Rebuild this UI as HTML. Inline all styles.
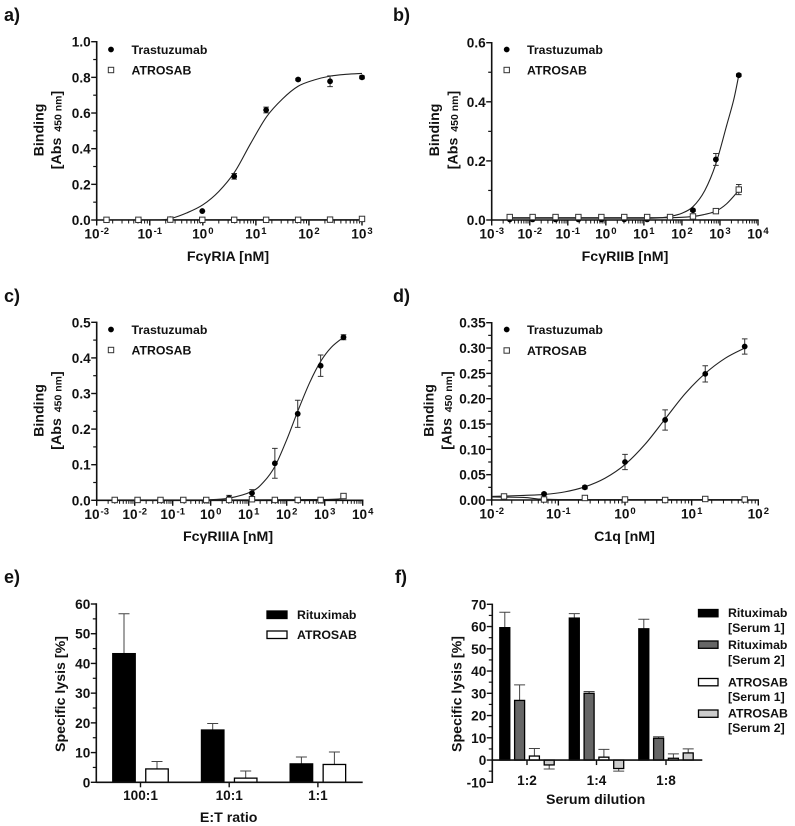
<!DOCTYPE html>
<html lang="en">
<head>
<meta charset="utf-8">
<title>Binding and lysis charts</title>
<style>
html,body{margin:0;padding:0;background:#fff;}
svg{display:block;font-family:"Liberation Sans",Arial,sans-serif;font-weight:bold;fill:#111;filter:blur(0.3px);}
.tick{font-size:13.6px;}
.title{font-size:14.2px;}
.leg{font-size:12.3px;}
.letter{font-size:18px;}
</style>
</head>
<body>
<svg id="fig" width="795" height="826" viewBox="0 0 795 826" xmlns="http://www.w3.org/2000/svg">
  <rect width="795" height="826" fill="#fff"/>

  <text class="letter" x="4" y="21">a)</text>
  <text class="letter" x="393" y="21">b)</text>
  <text class="letter" x="4" y="302">c)</text>
  <text class="letter" x="393" y="302">d)</text>
  <text class="letter" x="4" y="583">e)</text>
  <text class="letter" x="395" y="583">f)</text>

  <g id="panel-a">
    <text class="title" transform="translate(43.5,130) rotate(-90)" text-anchor="middle">Binding</text>
    <text class="title" transform="translate(61,130) rotate(-90)" text-anchor="middle">[Abs <tspan font-size="10.5" dy="0.5" dx="2">450 nm</tspan><tspan dy="-0.5">]</tspan></text>
    <text class="title" x="228" y="261" text-anchor="middle">FcγRIA [nM]</text>
  </g>
  <g id="panel-b">
    <text class="title" transform="translate(439,130) rotate(-90)" text-anchor="middle">Binding</text>
    <text class="title" transform="translate(457.5,130) rotate(-90)" text-anchor="middle">[Abs <tspan font-size="10.5" dy="0.5" dx="2">450 nm</tspan><tspan dy="-0.5">]</tspan></text>
    <text class="title" x="625" y="261" text-anchor="middle">FcγRIIB [nM]</text>
  </g>
  <g id="panel-c">
    <text class="title" transform="translate(43.5,410.5) rotate(-90)" text-anchor="middle">Binding</text>
    <text class="title" transform="translate(61,410.5) rotate(-90)" text-anchor="middle">[Abs <tspan font-size="10.5" dy="0.5" dx="2">450 nm</tspan><tspan dy="-0.5">]</tspan></text>
    <text class="title" x="228" y="541" text-anchor="middle">FcγRIIIA [nM]</text>
  </g>
  <g id="panel-d">
    <text class="title" transform="translate(433.3,410.5) rotate(-90)" text-anchor="middle">Binding</text>
    <text class="title" transform="translate(451.7,410.5) rotate(-90)" text-anchor="middle">[Abs <tspan font-size="10.5" dy="0.5" dx="2">450 nm</tspan><tspan dy="-0.5">]</tspan></text>
    <text class="title" x="624.5" y="541" text-anchor="middle">C1q [nM]</text>
  </g>
  <g id="panel-e">
    <text class="title" transform="translate(65,694) rotate(-90)" text-anchor="middle">Specific lysis [%]</text>
    <text class="title" x="228.7" y="822" text-anchor="middle">E:T ratio</text>
  </g>
  <g id="panel-f">
    <text class="title" transform="translate(461.7,694) rotate(-90)" text-anchor="middle">Specific lysis [%]</text>
    <text class="title" x="595.7" y="804" text-anchor="middle">Serum dilution</text>
  </g>
</svg>

<script>
/* Panel a */
const aExponents = [-2,-1,0,1,2,3];
const aYTicks = [0,0.2,0.4,0.6,0.8,1.0];
const aYLabels = ['0.0','0.2','0.4','0.6','0.8','1.0'];
const aTrastConc = [0.244,0.977,3.9,15.6,62.5,250,1000];
const aTrast = [0.005,0.05,0.245,0.617,0.788,0.778,0.80];
const aTrastErr = [0.002,0.002,0.016,0.016,0.006,0.03,0.008];
const aAtroConc = [0.0153,0.061,0.244,0.977,3.9,15.6,62.5,250,1000];
const aAtro = [0.001,0.001,0.002,0.001,0.001,0.001,0.001,0.002,0.006];
const aAtroErr = [0,0,0,0,0,0,0,0,0];
const aTrastCurveX = [0.16,0.25,0.5,1,2,4,8,16,32,62.5,125,250,500,1000];
const aTrastCurveY = [0,0.008,0.04,0.085,0.16,0.27,0.43,0.58,0.68,0.75,0.785,0.807,0.817,0.822];
const aAtroCurveX = [0.0153,1000];
const aAtroCurveY = [0.001,0.002];

/* Panel b */
const bExponents = [-3,-2,-1,0,1,2,3,4];
const bYTicks = [0,0.2,0.4,0.6];
const bYLabels = ['0.0','0.2','0.4','0.6'];
const bConc = [0.00298,0.0119,0.0477,0.19,0.763,3.05,12.2,48.8,195,781,3125];
const bTrast = [0.002,0.002,0.002,0.002,0.002,0.002,0.002,0.008,0.033,0.205,0.49];
const bTrastErr = [0,0,0,0,0,0,0,0,0.004,0.02,0.004];
const bAtro = [0.01,0.01,0.01,0.01,0.01,0.01,0.01,0.01,0.012,0.03,0.103];
const bAtroErr = [0.003,0.003,0.003,0.003,0.003,0.003,0.003,0.003,0.003,0.003,0.017];
const bTrastCurveX = [0.00298,1,12.2,30,48.8,100,195,400,781,1500,2290,3125];
const bTrastCurveY = [0.006,0.006,0.006,0.008,0.012,0.023,0.045,0.10,0.19,0.32,0.406,0.49];
const bAtroCurveX = [0.00298,1,48.8,195,400,781,1500,3125];
const bAtroCurveY = [0.008,0.008,0.008,0.012,0.019,0.03,0.055,0.1];

/* Panel c */
const cExponents = [-3,-2,-1,0,1,2,3,4];
const cYTicks = [0,0.1,0.2,0.3,0.4,0.5];
const cYLabels = ['0.0','0.1','0.2','0.3','0.4','0.5'];
const cTrastConc = [0.763,3.05,12.2,48.8,195,781,3125];
const cTrast = [0.001,0.006,0.02,0.104,0.243,0.378,0.458];
const cTrastErr = [0,0.008,0.01,0.042,0.038,0.03,0.007];
const cAtroConc = [0.00298,0.0119,0.0477,0.19,0.763,3.05,12.2,48.8,195,781,3125];
const cAtro = [0.001,0.001,0.001,0.001,0.001,0.001,0.003,0.001,0.001,0.001,0.012];
const cAtroErr = [0,0,0,0,0,0,0,0,0,0,0];
const cTrastCurveX = [0.763,3.05,12.2,25,48.8,100,195,400,781,1500,3125];
const cTrastCurveY = [0.001,0.006,0.025,0.052,0.095,0.17,0.25,0.33,0.39,0.43,0.458];
const cAtroCurveX = [0.00298,781,3125];
const cAtroCurveY = [0.001,0.002,0.012];

/* Panel d */
const dExponents = [-2,-1,0,1,2];
const dYTicks = [0,0.05,0.10,0.15,0.20,0.25,0.30,0.35];
const dYLabels = ['0.00','0.05','0.10','0.15','0.20','0.25','0.30','0.35'];
const dTrastConc = [0.061,0.25,1,4,16,62.5];
const dTrast = [0.012,0.025,0.075,0.158,0.249,0.303];
const dTrastErr = [0.002,0.003,0.015,0.02,0.016,0.015];
const dAtroConc = [0.0153,0.061,0.25,1,4,16,62.5];
const dAtro = [0.007,0.001,0.004,0.001,0,0.002,0.001];
const dAtroErr = [0,0,0,0,0,0,0];
const dTrastCurveX = [0.01,0.03,0.0625,0.125,0.25,0.5,1,2,4,8,16,32,62.5];
const dTrastCurveY = [0.007,0.009,0.011,0.016,0.026,0.043,0.07,0.11,0.16,0.21,0.25,0.28,0.30];
const dAtroCurveX = [0.01,0.03,0.05,0.1,1,62.5];
const dAtroCurveY = [0.006,0.005,0.002,0.001,0.001,0.001];

/* Panel e */
const eCategories = ['100:1','10:1','1:1'];
const eYTicks = [0,10,20,30,40,50,60];
const eYLabels = ['0','10','20','30','40','50','60'];
const eRituximab = [43.3,17.6,6.2];
const eRituximabTop = [56.7,19.8,8.5];
const eAtrosab = [4.5,1.4,6.0];
const eAtrosabTop = [7.0,3.8,10.2];

/* Panel f */
const fCategories = ['1:2','1:4','1:8'];
const fYTicks = [-10,0,10,20,30,40,50,60,70];
const fYLabels = ['-10','0','10','20','30','40','50','60','70'];
const fRit1 = [59.5,63.8,59.0];
const fRit1End = [66.4,65.8,63.3];
const fRit2 = [26.8,30.0,9.8];
const fRit2End = [33.8,30.8,10.5];
const fAtr1 = [1.8,1.3,0.8];
const fAtr1End = [5.2,4.8,2.8];
const fAtr2 = [-2.2,-3.8,3.2];
const fAtr2End = [-4.0,-5.0,5.0];

const NS = 'http://www.w3.org/2000/svg';
const INK = '#111';

function make(tag, parent, attrs) {
  const n = document.createElementNS(NS, tag);
  for (const k in attrs) n.setAttribute(k, attrs[k]);
  parent.appendChild(n);
  return n;
}
function rule(parent, x1, y1, x2, y2, w, color) {
  return make('line', parent, {x1:x1, y1:y1, x2:x2, y2:y2, stroke:color || INK, 'stroke-width':w});
}

/* linear y ticks with unlabeled midpoints */
function drawYAxis(g, x, yOf, ticks, labels) {
  const axis = rule(g, x, yOf(ticks[ticks.length-1]) - 0.7, x, yOf(ticks[0]) + 0.7, 1.6);
  
  
  ticks.forEach((t, i) => {
    const major = rule(g, x - 5.5, yOf(t), x, yOf(t), 1.4);
    
    
    const lab = make('text', g, {class:'tick', x:x - 6, y:yOf(t) + 5, 'text-anchor':'end'});
    lab.textContent = labels[i];
    
    
    if (i < ticks.length - 1) {
      const minor = rule(g, x - 3.5, yOf((t + ticks[i+1]) / 2), x, yOf((t + ticks[i+1]) / 2), 1.2);
      
      
    }
  });
}

/* smooth path through points */
function smoothPath(pts) {
  let d = 'M' + pts[0][0].toFixed(2) + ' ' + pts[0][1].toFixed(2);
  for (let i = 0; i < pts.length - 1; i++) {
    const p0 = pts[Math.max(i-1,0)], p1 = pts[i], p2 = pts[i+1], p3 = pts[Math.min(i+2,pts.length-1)];
    const c1x = p1[0] + (p2[0]-p0[0])/6, c1y = p1[1] + (p2[1]-p0[1])/6;
    const c2x = p2[0] - (p3[0]-p1[0])/6, c2y = p2[1] - (p3[1]-p1[1])/6;
    d += 'C' + c1x.toFixed(2) + ' ' + c1y.toFixed(2) + ' ' + c2x.toFixed(2) + ' ' + c2y.toFixed(2) + ' ' + p2[0].toFixed(2) + ' ' + p2[1].toFixed(2);
  }
  return d;
}

function drawDoseChart(id, box, exps, yTicks, yLabels, tc, tv, te, ac, av, ae, tcx, tcy, acx, acy, leg) {
  const g = document.getElementById(id);
  const lo = exps[0], hi = exps[exps.length-1];
  const xOf = c => box.x0 + (Math.log10(c) - lo) / (hi - lo) * (box.x1 - box.x0);
  const yMax = yTicks[yTicks.length-1];
  const yOf = v => box.y0 + (v / yMax) * (box.y1 - box.y0);

  const xAxis = rule(g, box.x0, box.y0, box.x1 + 0.7, box.y0, 1.6);
  
  
  exps.forEach((e, i) => {
    const px = xOf(Math.pow(10, e));
    const tick = rule(g, px, box.y0, px, box.y0 + 5.5, 1.4);
    
    
    const lab = make('text', g, {class:'tick', x:px, y:box.y0 + 18.5, 'text-anchor':'middle'});
    
    
    const base = make('tspan', lab, {});
    base.textContent = '10';
    const sup = make('tspan', lab, {'font-size':'9.5', dy:'-4.5', dx:'1'});
    sup.textContent = String(e);
    if (i < exps.length - 1) {
      for (let m = 2; m < 10; m++) {
        const mx = xOf(m * Math.pow(10, e));
        const minor = rule(g, mx, box.y0, mx, box.y0 + 3.5, 1);
        
        
      }
    }
  });
  drawYAxis(g, box.x0, yOf, yTicks, yLabels);

  const tCurve = make('path', g, {d:smoothPath(tcx.map((c,i)=>[xOf(c),yOf(tcy[i])])), fill:'none', stroke:'#222', 'stroke-width':1.1});
  
  
  const aCurve = make('path', g, {d:smoothPath(acx.map((c,i)=>[xOf(c),yOf(acy[i])])), fill:'none', stroke:'#222', 'stroke-width':1.1});
  
  

  tc.forEach((c, i) => {
    const px = xOf(c), py = yOf(tv[i]);
    if (te[i] > 0) {
      const up = yOf(tv[i] + te[i]), dn = yOf(Math.max(tv[i] - te[i], 0));
      const bar = make('path', g, {d:`M${px-2.8} ${up}H${px+2.8}M${px} ${up}V${dn}M${px-2.8} ${dn}H${px+2.8}`, fill:'none', stroke:'#333', 'stroke-width':1});
      
      
    }
    const dot = make('circle', g, {cx:px, cy:py, r:2.9, fill:'#000'});
    
    
  });
  ac.forEach((c, i) => {
    const px = xOf(c), py = yOf(av[i]);
    if (ae[i] > 0) {
      const up = yOf(av[i] + ae[i]), dn = yOf(Math.max(av[i] - ae[i], 0));
      const bar = make('path', g, {d:`M${px-2.8} ${up}H${px+2.8}M${px} ${up}V${dn}M${px-2.8} ${dn}H${px+2.8}`, fill:'none', stroke:'#333', 'stroke-width':1});
      
      
    }
    const sq = make('rect', g, {x:px-2.7, y:py-2.7, width:5.4, height:5.4, fill:'#fff', stroke:'#333', 'stroke-width':1});
    
    
  });

  const ld = make('circle', g, {cx:leg.mx, cy:leg.y1, r:2.9, fill:'#000'});
  
  
  const lt = make('text', g, {class:'leg', x:leg.tx, y:leg.y1 + 4.5});
  lt.textContent = 'Trastuzumab';
  
  
  const ls = make('rect', g, {x:leg.mx-2.7, y:leg.y2-2.7, width:5.4, height:5.4, fill:'#fff', stroke:'#333', 'stroke-width':1});
  
  
  const la = make('text', g, {class:'leg', x:leg.tx, y:leg.y2 + 4.5});
  la.textContent = 'ATROSAB';
  
  
}

drawDoseChart('panel-a', {x0:96.7,x1:362,y0:220,y1:41.7}, aExponents, aYTicks, aYLabels,
  aTrastConc, aTrast, aTrastErr, aAtroConc, aAtro, aAtroErr, aTrastCurveX, aTrastCurveY, aAtroCurveX, aAtroCurveY,
  {mx:111, tx:131.5, y1:49.5, y2:70});
drawDoseChart('panel-b', {x0:491.7,x1:758,y0:220,y1:42.7}, bExponents, bYTicks, bYLabels,
  bConc, bTrast, bTrastErr, bConc, bAtro, bAtroErr, bTrastCurveX, bTrastCurveY, bAtroCurveX, bAtroCurveY,
  {mx:506.7, tx:527, y1:49.5, y2:70});
drawDoseChart('panel-c', {x0:96.7,x1:362.7,y0:500.3,y1:322.3}, cExponents, cYTicks, cYLabels,
  cTrastConc, cTrast, cTrastErr, cAtroConc, cAtro, cAtroErr, cTrastCurveX, cTrastCurveY, cAtroCurveX, cAtroCurveY,
  {mx:111, tx:131.5, y1:329.5, y2:350});
drawDoseChart('panel-d', {x0:491.7,x1:758.3,y0:500,y1:322.7}, dExponents, dYTicks, dYLabels,
  dTrastConc, dTrast, dTrastErr, dAtroConc, dAtro, dAtroErr, dTrastCurveX, dTrastCurveY, dAtroCurveX, dAtroCurveY,
  {mx:506.7, tx:527, y1:329.5, y2:350.5});

/* one bar with a one-sided error whisker */
function drawBar(g, cx, w, yOf, value, end, fill, seriesName) {
  const err = make('path', g, {d:`M${cx} ${yOf(value)}V${yOf(end)}M${cx-5.5} ${yOf(end)}H${cx+5.5}`, fill:'none', stroke:'#444', 'stroke-width':1});
  
  
  const top = Math.min(yOf(value), yOf(0));
  const r = make('rect', g, {x:cx - w/2, y:top, width:w, height:Math.abs(yOf(value) - yOf(0)), fill:fill, stroke:'#000', 'stroke-width':1.3});
  
  
}

/* Panel e drawing */
(function () {
  const g = document.getElementById('panel-e');
  const y0 = 782.3, y60 = 604, x0 = 96.3, x1 = 362.7;
  const yOf = v => y0 + (v / 60) * (y60 - y0);
  const cx = i => 140.5 + i * 88.7;
  eCategories.forEach((c, i) => {
    drawBar(g, cx(i) - 16.5, 22.5, yOf, eRituximab[i], eRituximabTop[i], '#000', 'rituximab');
    drawBar(g, cx(i) + 16.5, 22.5, yOf, eAtrosab[i], eAtrosabTop[i], '#fff', 'atrosab');
    const tick = rule(g, cx(i), y0, cx(i), y0 + 5, 1.4);
    
    
    const lab = make('text', g, {class:'tick', x:cx(i), y:800, 'text-anchor':'middle'});
    lab.textContent = c;
    
    
  });
  const xAxis = rule(g, x0, y0, x1, y0, 1.6);
  
  
  drawYAxis(g, x0, yOf, eYTicks, eYLabels);

  const s1 = make('rect', g, {x:267, y:611, width:20, height:7.5, fill:'#000', stroke:'#000', 'stroke-width':1.3});
  
  
  const t1 = make('text', g, {class:'leg', x:297, y:619});
  t1.textContent = 'Rituximab';
  
  
  const s2 = make('rect', g, {x:267, y:631, width:20, height:7.5, fill:'#fff', stroke:'#000', 'stroke-width':1.3});
  
  
  const t2 = make('text', g, {class:'leg', x:297, y:639});
  t2.textContent = 'ATROSAB';
  
  
})();

/* Panel f drawing */
(function () {
  const g = document.getElementById('panel-f');
  const yA = 604.3, yB = 782.3, x0 = 492.3, x1 = 702.3;
  const yOf = v => yA + (70 - v) / 80 * (yB - yA);
  const cx = i => 527 + i * 69.5;
  fCategories.forEach((c, i) => {
    drawBar(g, cx(i) - 22.2, 10, yOf, fRit1[i], fRit1End[i], '#000', 'rituximab-serum-1');
    drawBar(g, cx(i) - 7.4, 10, yOf, fRit2[i], fRit2End[i], '#666', 'rituximab-serum-2');
    drawBar(g, cx(i) + 7.4, 10, yOf, fAtr1[i], fAtr1End[i], '#fff', 'atrosab-serum-1');
    drawBar(g, cx(i) + 22.2, 10, yOf, fAtr2[i], fAtr2End[i], '#ccc', 'atrosab-serum-2');
    const tick = rule(g, cx(i), yOf(0), cx(i), yOf(0) + 5, 1.4);
    
    
    const lab = make('text', g, {class:'tick', x:cx(i), y:785, 'text-anchor':'middle'});
    lab.textContent = c;
    
    
  });
  const xAxis = rule(g, x0, yOf(0), x1, yOf(0), 1.6);
  
  
  drawYAxis(g, x0, yOf, fYTicks, fYLabels);
})();
</script>
<script>
/* Panel f legend */
(function () {
  const g = document.getElementById('panel-f');
  const swatchFill = ['#000','#666','#fff','#ccc'];
  const swatchTop = [609.5,641,678.5,710];
  const line1 = ['Rituximab','Rituximab','ATROSAB','ATROSAB'];
  const line2 = ['[Serum 1]','[Serum 2]','[Serum 1]','[Serum 2]'];
  const base1 = [617,649,686.7,717.7];
  const base2 = [632,664,701,732];
  swatchFill.forEach((fill, i) => {
    const s = make('rect', g, {x:698.5, y:swatchTop[i], width:19.5, height:7.3, fill:fill, stroke:'#000', 'stroke-width':1.3});
    
    
    const a = make('text', g, {class:'leg', x:728, y:base1[i]});
    a.textContent = line1[i];
    
    
    const b = make('text', g, {class:'leg', x:728, y:base2[i]});
    b.textContent = line2[i];
    
    
  });
})();
</script>
</body>
</html>
